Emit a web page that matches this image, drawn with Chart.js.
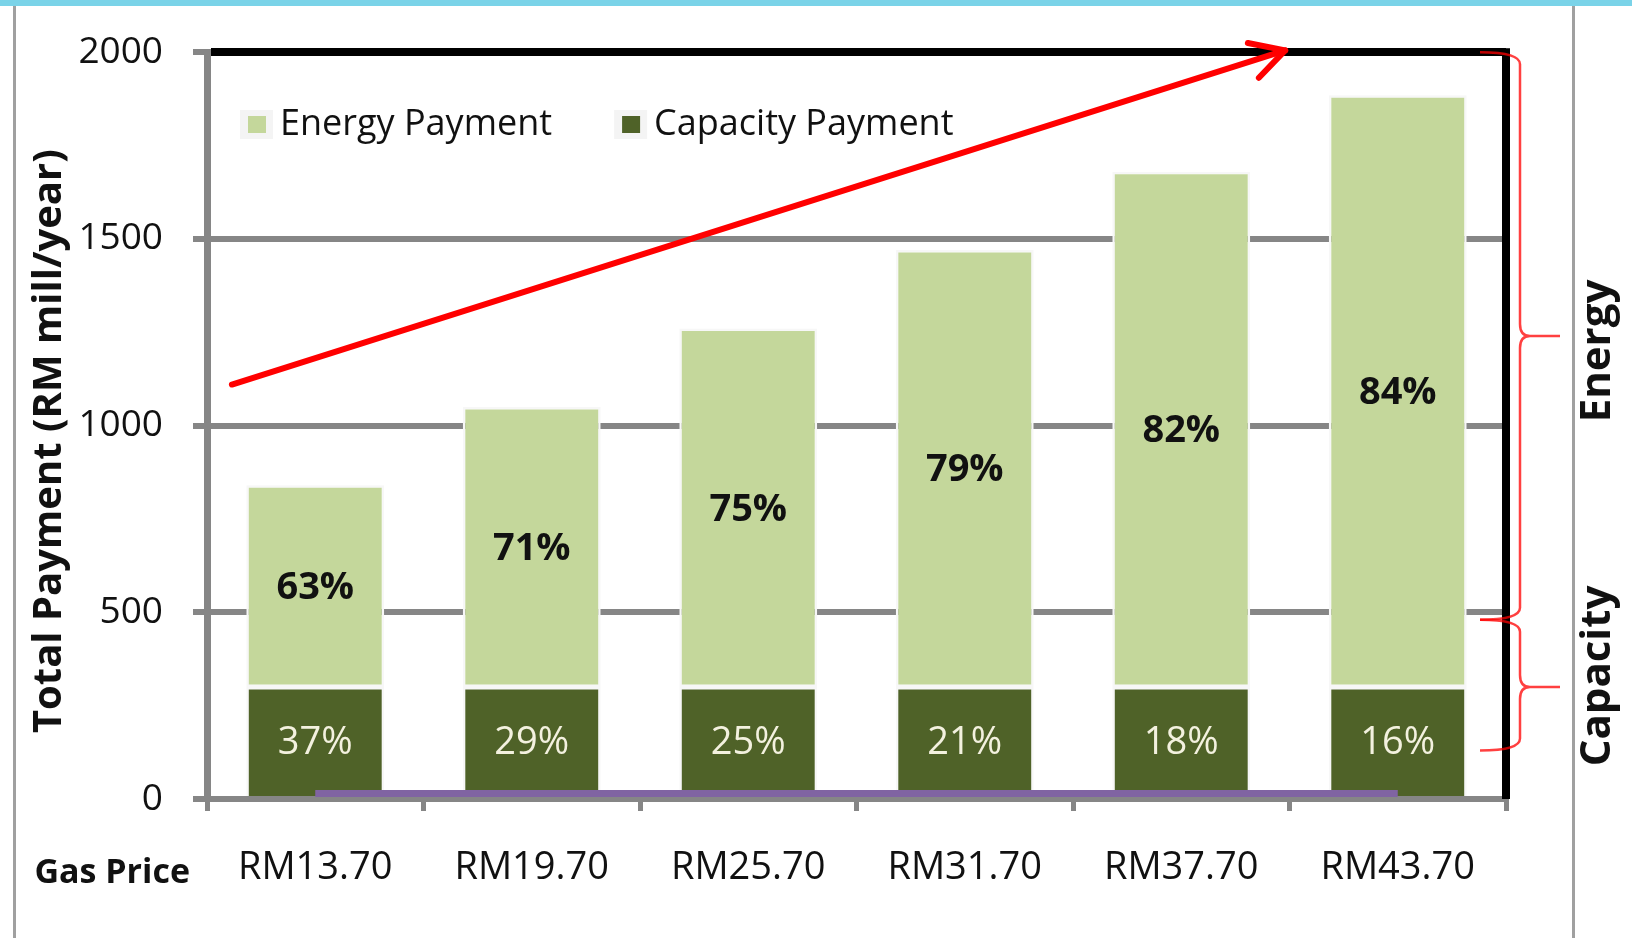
<!DOCTYPE html>
<html>
<head>
<meta charset="utf-8">
<script src="https://cdn.jsdelivr.net/npm/chart.js@4.4.1/dist/chart.umd.min.js"></script>
<style>
  html, body { margin: 0; padding: 0; background: #fff; }
  #c { display: block; }
</style>
</head>
<body>
<canvas id="c" width="1632" height="938"></canvas>
<script>
// values (RM mill/year)
const gasPrices = ["RM13.70", "RM19.70", "RM25.70", "RM31.70", "RM37.70", "RM43.70"];
const capacityPayment = [300, 300, 300, 300, 300, 300];
const energyPayment = [540, 750, 960, 1170, 1380, 1585];
const capacityShare = ["37%", "29%", "25%", "21%", "18%", "16%"];
const energyShare = ["63%", "71%", "75%", "79%", "82%", "84%"];
const baseLine = [15, 15, 15, 15, 15, 15];
const yTicks = [0, 500, 1000, 1500, 2000];
// trend arrow in (category index, value) terms
const trendArrow = [{ x: -0.385, y: 1110 }, { x: 4.48, y: 2005 }];
// brackets on the right: value ranges
const braces = [
  { name: "Energy", from: 2000, mid: 1240, to: 480 },
  { name: "Capacity", from: 480, mid: 300, to: 130 }
];

const FONT = '"Open Sans", sans-serif';
const GRAY = "#868686";
const INK = "#111";

const backdrop = {
  id: "backdrop",
  beforeDraw(chart) {
    const c = chart.ctx;
    c.save();
    c.fillStyle = "#fff"; c.fillRect(0, 0, chart.width, chart.height);
    c.fillStyle = "#7ad3e8"; c.fillRect(0, 0, chart.width, 6);
    c.fillStyle = "#a0a0a0";
    c.fillRect(13, 6, 3, chart.height);
    c.fillRect(1572, 6, 3, chart.height);
    c.restore();
  }
};

function drawBrace(c, x0, xv, xt, yTop, yMid, yBot) {
  const r = 12;
  c.beginPath();
  c.moveTo(x0, yTop);
  c.quadraticCurveTo(xv, yTop, xv, yTop + r);
  c.lineTo(xv, yMid - r);
  c.quadraticCurveTo(xv, yMid, xv + 10, yMid);
  c.lineTo(xt, yMid);
  c.moveTo(xv + 10, yMid);
  c.quadraticCurveTo(xv, yMid, xv, yMid + r);
  c.lineTo(xv, yBot - r);
  c.quadraticCurveTo(xv, yBot, x0, yBot);
  c.stroke();
}

const extras = {
  id: "extras",
  afterDatasetsDraw(chart) {
    const c = chart.ctx, xs = chart.scales.x, ys = chart.scales.y, a = chart.chartArea;
    c.save();

    // right black frame line
    c.strokeStyle = "#000"; c.lineWidth = 8;
    c.beginPath(); c.moveTo(a.right, a.top - 4); c.lineTo(a.right, a.bottom); c.stroke();

    // percentage labels inside the segments
    c.textAlign = "center"; c.textBaseline = "middle";
    [[2, energyShare, "bold 38px " + FONT, INK], [1, capacityShare, "38px " + FONT, "#f3f1df"]].forEach(([di, texts, font, color]) => {
      c.font = font; c.fillStyle = color;
      chart.getDatasetMeta(di).data.forEach((bar, i) => {
        c.fillText(texts[i], bar.x, (bar.y + bar.base) / 2 + 2);
      });
    });

    // red trend arrow
    const x1 = xs.getPixelForValue(trendArrow[0].x), y1 = ys.getPixelForValue(trendArrow[0].y);
    const x2 = xs.getPixelForValue(trendArrow[1].x), y2 = ys.getPixelForValue(trendArrow[1].y);
    const ang = Math.atan2(y2 - y1, x2 - x1);
    c.strokeStyle = "#ff0000"; c.lineWidth = 6; c.lineCap = "round"; c.lineJoin = "round";
    c.beginPath(); c.moveTo(x1, y1); c.lineTo(x2, y2); c.stroke();
    c.beginPath();
    c.moveTo(x2 - 38 * Math.cos(ang - 0.5), y2 - 38 * Math.sin(ang - 0.5));
    c.lineTo(x2, y2);
    c.lineTo(x2 - 38 * Math.cos(ang + 0.5), y2 - 38 * Math.sin(ang + 0.5));
    c.stroke();

    // braces and their labels
    c.strokeStyle = "rgba(255,0,0,0.75)"; c.lineWidth = 2.5; c.lineCap = "butt";
    braces.forEach(b => {
      drawBrace(c, a.right - 26, a.right + 14, a.right + 54,
        ys.getPixelForValue(b.from), ys.getPixelForValue(b.mid), ys.getPixelForValue(b.to));
    });
    c.fillStyle = INK; c.font = "bold 42px " + FONT;
    braces.forEach(b => {
      const yc = b.name === "Energy" ? 351 : 676;
      c.save(); c.translate(1598, yc); c.rotate(-Math.PI / 2);
      c.fillText(b.name, 0, 0); c.restore();
    });

    // "Gas Price" caption left of the category labels
    c.font = "bold 34px " + FONT; c.textAlign = "right";
    c.fillText("Gas Price", 190, 873);

    // legend inside the plot, top left
    c.textAlign = "left"; c.font = "36px " + FONT;
    let lx = a.left + 33;
    [chart.data.datasets[2], chart.data.datasets[1]].forEach(ds => {
      c.fillStyle = "#f4f4f4"; c.fillRect(lx, 110, 33, 29);
      c.fillStyle = ds.backgroundColor; c.fillRect(lx + 8, 116, 18, 17);
      c.fillStyle = INK; c.fillText(ds.label, lx + 40, 125);
      lx += 40 + c.measureText(ds.label).width + 62;
    });
    c.restore();
  }
};

new Chart(document.getElementById("c"), {
  data: {
    labels: gasPrices,
    datasets: [
      { type: "line", label: "Base", data: baseLine, borderColor: "#8064a2", borderWidth: 7,
        pointRadius: 0, stack: "base", order: 0 },
      { type: "bar", label: "Capacity Payment", data: capacityPayment, backgroundColor: "#4f6228",
        borderColor: "#f7f7f7", borderWidth: 2.5, borderSkipped: "start", stack: "pay", order: 1 },
      { type: "bar", label: "Energy Payment", data: energyPayment, backgroundColor: "#c4d79b",
        borderColor: "#f7f7f7", borderWidth: 2.5, borderSkipped: false, stack: "pay", order: 1 }
    ]
  },
  options: {
    responsive: false,
    animation: false,
    devicePixelRatio: 1,
    layout: { padding: { top: 50, right: 126, left: 0, bottom: 0 } },
    datasets: { bar: { barPercentage: 0.637, categoryPercentage: 1 } },
    plugins: { legend: { display: false }, tooltip: { enabled: false } },
    scales: {
      x: {
        stacked: true,
        afterFit(s) { s.height = 139; },
        border: { color: GRAY, width: 6 },
        grid: { offset: true, drawOnChartArea: false, color: GRAY, lineWidth: 5, tickLength: 12 },
        ticks: { color: INK, font: { family: FONT, size: 38 }, padding: 34 }
      },
      y: {
        stacked: true,
        min: 0, max: 2000,
        afterFit(s) { s.width = 207; },
        afterBuildTicks(s) { s.ticks = yTicks.map(v => ({ value: v })); },
        border: { color: GRAY, width: 7 },
        grid: {
          color: ctx => ctx.tick && ctx.tick.value === 2000 ? "#000" : GRAY,
          lineWidth: ctx => ctx.tick && ctx.tick.value === 2000 ? 8 : 6,
          tickColor: GRAY, tickLength: 14, tickWidth: 6
        },
        ticks: { color: INK, font: { family: FONT, size: 37 }, padding: 30, callback: v => String(v) },
        title: { display: true, text: "Total Payment (RM mill/year)   ", color: INK,
          font: { family: FONT, size: 40, weight: "bold" }, padding: { top: 26, bottom: 0 } }
      }
    }
  },
  plugins: [backdrop, extras]
});
</script>
</body>
</html>
